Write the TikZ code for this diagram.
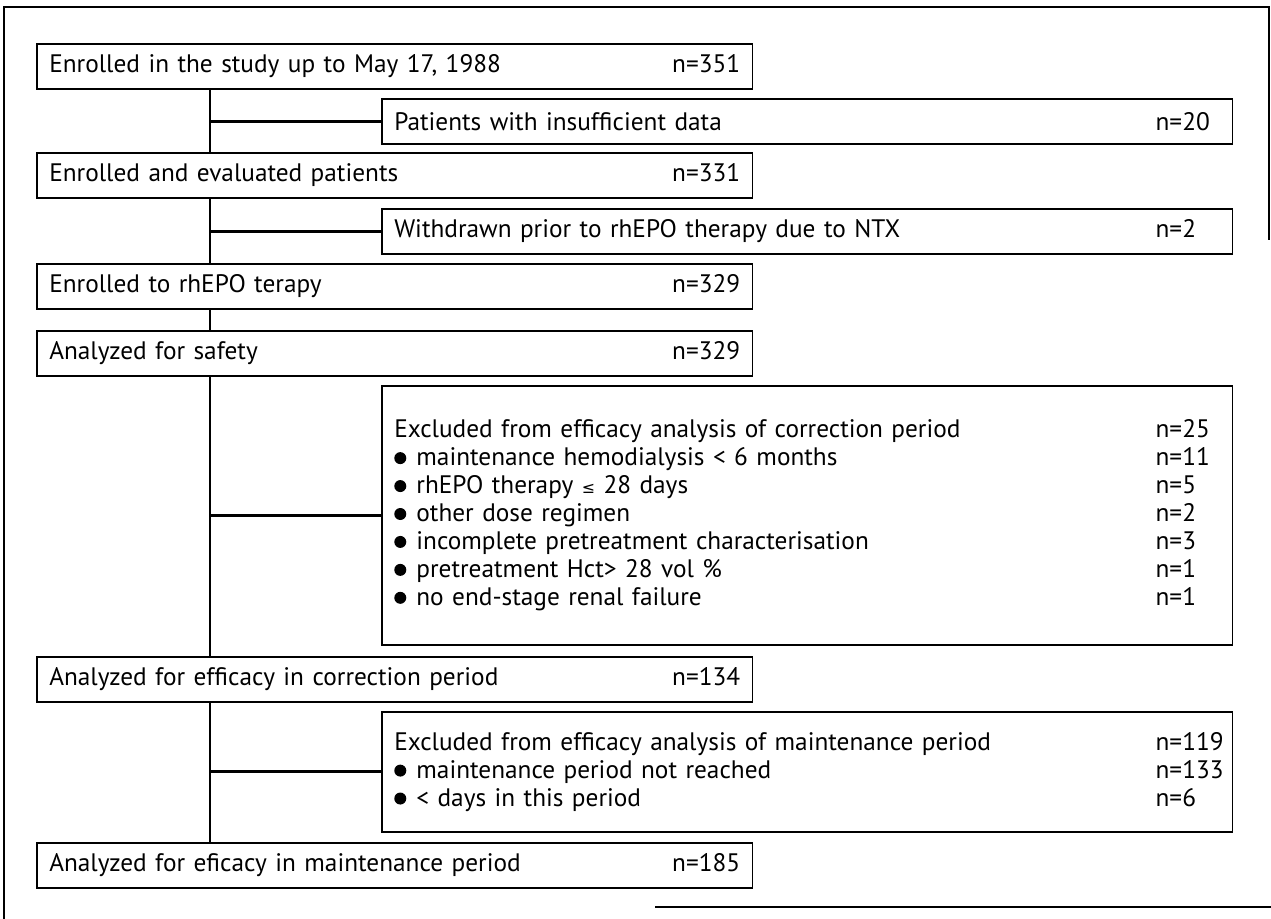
\documentclass[tikz,border=0pt]{standalone}
\usepackage{fontspec}
\setmainfont{PT Sans}
\newfontfamily\symfont{DejaVu Sans}
\tikzset{
  mainbox/.style={draw, line width=0.9pt, anchor=north west, minimum height=0.9cm,
    text width=13.82cm, inner xsep=0.25cm, inner ysep=0pt, align=left,
    font=\fontsize{14.4}{15.9}\selectfont},
  sidebox/.style={mainbox, text width=16.52cm},
  link/.style={line width=1.6pt}
}
\newcommand{\nval}[1]{\makebox[1.29cm][l]{n=#1}}
\newcommand{\bul}{\tikz[baseline=-0.6ex]\fill (0,0) circle (0.12cm);\hspace{0.4em}}

\begin{document}
\begin{tikzpicture}[x=0.02cm, y=-0.02cm]
  \useasboundingbox (0,0) rectangle (1271,919);
  % frame of the page (cut by the scan)
  \draw[line width=1.2pt] (4,919) -- (4,7) -- (1269,7) -- (1269,240);
  \draw[line width=1.2pt] (655,907) -- (1271,907);
  % main column
  \foreach \name/\y/\txt/\n in {
      enr/43/{Enrolled in the study up to May 17, 1988}/351,
      eval/152/{Enrolled and evaluated patients}/331,
      ther/263/{Enrolled to rhEPO terapy}/329,
      safe/330/{Analyzed for safety}/329,
      corr/656/{Analyzed for efficacy in correction period}/134,
      maint/842/{Analyzed for eficacy in maintenance period}/185}{
    \node[mainbox] (\name) at (36,\y) {\txt\hfill n=\n};
  }
  % excluded patients
  \coordinate (spine) at (210,0);
  \node[sidebox] (insuf) at (381,98) {Patients with insufficient data\hfill\nval{20}};
  \node[sidebox] (ntx) at (381,208) {Withdrawn prior to rhEPO therapy due to NTX\hfill\nval{2}};
  \node[sidebox, minimum height=5.18cm] (excor) at (381,385) {%
    Excluded from efficacy analysis of correction period\hfill\nval{25}\\
    \bul maintenance hemodialysis < 6 months\hfill\nval{11}\\
    \bul rhEPO therapy {\symfont\small ≤} 28 days\hfill\nval{5}\\
    \bul other dose regimen\hfill\nval{2}\\
    \bul incomplete pretreatment characterisation\hfill\nval{3}\\
    \bul pretreatment Hct> 28 vol \%\hfill\nval{1}\\
    \bul no end-stage renal failure\hfill\nval{1}};
  \node[sidebox, minimum height=2.4cm] (exmain) at (381,711) {%
    Excluded from efficacy analysis of maintenance period\hfill\nval{119}\\
    \bul maintenance period not reached\hfill\nval{133}\\
    \bul < days in this period\hfill\nval{6}};
  % spine and branches
  \foreach \a/\b in {enr/eval, eval/ther, ther/safe, safe/corr, corr/maint}
    \draw[link] (\a.south -| spine) -- (\b.north -| spine);
  \foreach \s in {insuf, ntx, excor, exmain}
    \draw[link] (spine |- \s.west) -- (\s.west);
\end{tikzpicture}
\end{document}
